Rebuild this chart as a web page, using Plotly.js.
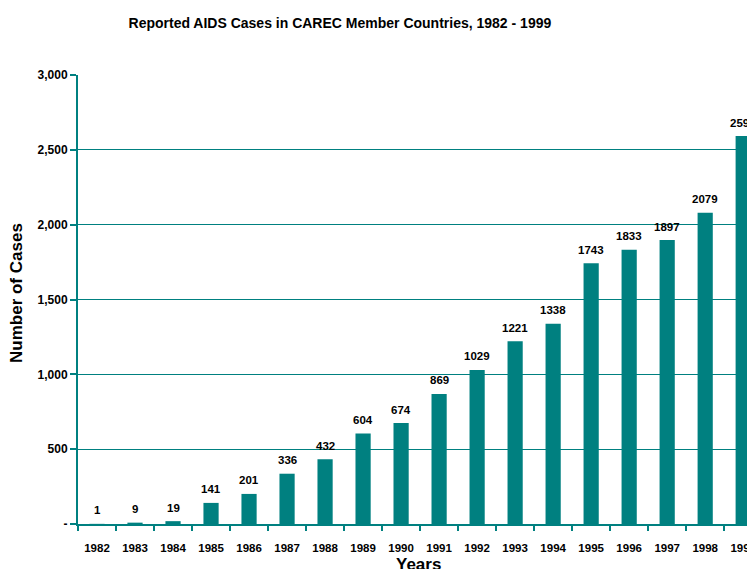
<!DOCTYPE html>
<html>
<head>
<meta charset="utf-8">
<script src="https://cdn.plot.ly/plotly-3.0.1.min.js"></script>
<style>html,body{margin:0;padding:0;overflow:hidden;background:#fff}</style>
</head>
<body>
<div id="chart" style="width:747px;height:569px"></div>
<script>
var years = ['1982','1983','1984','1985','1986','1987','1988','1989','1990','1991','1992','1993','1994','1995','1996','1997','1998','1999'];
var cases = [1, 9, 19, 141, 201, 336, 432, 604, 674, 869, 1029, 1221, 1338, 1743, 1833, 1897, 2079, 2592];
var yTickVals = [0, 500, 1000, 1500, 2000, 2500, 3000];
var yTickText = ['-', '500', '1,000', '1,500', '2,000', '2,500', '3,000'];

var teal = '#008080';
var fontFam = '"Liberation Sans", Arial, sans-serif';

var trace = {
  type: 'bar',
  x: years,
  y: cases,
  marker: {color: teal, line: {width: 0}},
  width: 0.4,
  hoverinfo: 'x+y'
};

var valueLabels = years.map(function (yr, i) {
  return {
    x: i, y: cases[i], xref: 'x', yref: 'y',
    text: String(cases[i]),
    showarrow: false,
    yanchor: 'middle', xanchor: 'center',
    yshift: 13.5,
    font: {family: fontFam, size: 11.5, color: '#000', weight: 'bold'}
  };
});

var layout = {
  width: 747,
  height: 569,
  margin: {l: 78, r: 0, t: 75, b: 45},
  paper_bgcolor: '#fff',
  plot_bgcolor: '#fff',
  showlegend: false,
  font: {family: fontFam, color: '#000'},
  title: {
    text: 'Reported AIDS Cases in CAREC Member Countries, 1982 - 1999',
    font: {family: fontFam, size: 14, color: '#000', weight: 'bold'},
    x: 0.455, xref: 'container', xanchor: 'center',
    y: 0.959, yref: 'container', yanchor: 'middle'
  },
  xaxis: {
    type: 'category',
    range: [-0.5, 17.1],
    tickson: 'boundaries',
    ticks: 'outside',
    ticklen: 5,
    tickwidth: 2,
    tickcolor: teal,
    showline: true,
    linecolor: teal,
    linewidth: 2,
    showgrid: false,
    zeroline: false,
    ticklabelstandoff: 12,
    tickfont: {family: fontFam, size: 11.5, color: '#000', weight: 'bold'},
    fixedrange: true
  },
  yaxis: {
    range: [0, 3000],
    tickvals: yTickVals,
    ticktext: yTickText,
    ticks: 'outside',
    ticklen: 6,
    tickwidth: 2,
    tickcolor: teal,
    showline: true,
    linecolor: teal,
    linewidth: 2,
    showgrid: true,
    gridcolor: teal,
    gridwidth: 1.3,
    zeroline: false,
    tickfont: {family: fontFam, size: 12, color: '#000', weight: 'bold'},
    fixedrange: true
  },
  annotations: valueLabels.concat([
    {
      text: 'Number of Cases', textangle: -90,
      xref: 'paper', yref: 'paper', x: -0.0912, y: 0.5145,
      xanchor: 'center', yanchor: 'middle', showarrow: false,
      font: {family: fontFam, size: 17, color: '#000', weight: 'bold'}
    },
    {
      text: 'Years',
      xref: 'paper', yref: 'paper', x: 0.5097, y: -0.0913,
      xanchor: 'center', yanchor: 'middle', showarrow: false,
      font: {family: fontFam, size: 17, color: '#000', weight: 'bold'}
    }
  ])
};

Plotly.newPlot('chart', [trace], layout, {displayModeBar: false, staticPlot: true});
</script>
</body>
</html>
